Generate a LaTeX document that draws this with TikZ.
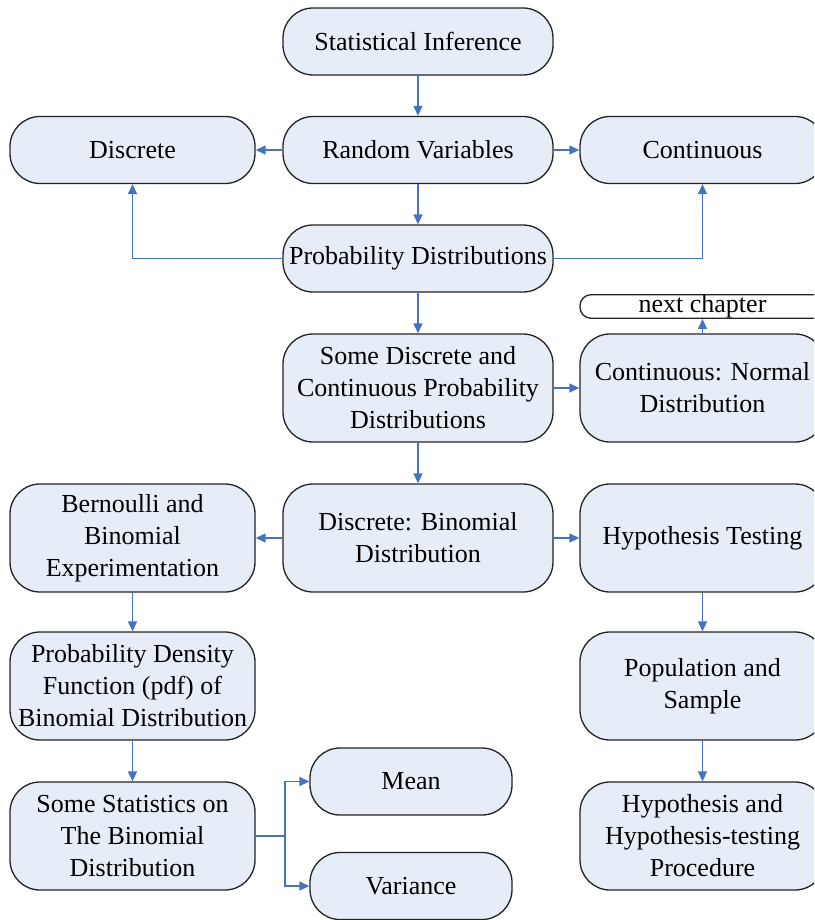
\documentclass[tikz,border=0pt]{standalone}
\usepackage{fontspec}
\setmainfont{Liberation Serif}
\usetikzlibrary{arrows.meta}
\definecolor{boxfill}{RGB}{231,237,247}
\definecolor{arrblue}{RGB}{70,114,196}
\definecolor{boxline}{RGB}{35,35,35}
\begin{document}
\begin{tikzpicture}[x=1pt,y=-1pt,
  box/.style={draw=boxline, line width=1.3pt, fill=boxfill, rounded corners=30pt,
    align=center, inner sep=0pt, font=\fontsize{26}{32}\selectfont},
  wbox/.style={box, minimum width=270pt},
  nbox/.style={box, minimum width=245pt},
  sbox/.style={minimum height=67pt},
  tbox/.style={minimum height=108pt},
  arr/.style={draw=arrblue, line width=1.3pt, -{Triangle[length=10pt,width=9pt]}}]
\useasboundingbox (0,0) rectangle (814,920);
\clip (0,0) rectangle (814,920);
\node[wbox,sbox] (si) at (418,41.5) {Statistical Inference};
\node[wbox,sbox] (rv) at (418,150) {Random Variables};
\node[nbox,sbox] (disc) at (132.5,150) {Discrete};
\node[nbox,sbox] (cont) at (702.5,150) {Continuous};
\node[wbox,sbox] (pd) at (418,258.5) {Probability Distributions};
\node[box, minimum width=245pt, minimum height=23pt, rounded corners=11pt, fill=white] (nc) at (702.5,306.5) {next chapter};
\node[wbox,tbox] (sdc) at (418,388) {Some Discrete and\\Continuous Probability\\Distributions};
\node[nbox,tbox] (cn) at (702.5,388) {Continuous: Normal\\Distribution};
\node[wbox,tbox] (db) at (418,538) {Discrete: Binomial\\Distribution};
\node[nbox,tbox] (be) at (132.5,538) {Bernoulli and\\Binomial\\Experimentation};
\node[nbox,tbox] (ht) at (702.5,538) {Hypothesis Testing};
\node[nbox,tbox] (pdf) at (132.5,686) {Probability Density\\Function (pdf) of\\Binomial Distribution};
\node[nbox,tbox] (pop) at (702.5,686) {Population and\\Sample};
\node[nbox,tbox] (ss) at (132.5,836) {Some Statistics on\\The Binomial\\Distribution};
\node[box, minimum width=202pt, sbox] (mean) at (411,781.5) {Mean};
\node[box, minimum width=202pt, sbox] (var) at (411,886) {Variance};
\node[nbox,tbox] (hp) at (702.5,836) {Hypothesis and\\Hypothesis-testing\\Procedure};
\coordinate (j) at (285,836);
\draw[arr] (si) -- (rv);
\draw[arr] (rv) -- (disc);
\draw[arr] (rv) -- (cont);
\draw[arr] (rv) -- (pd);
\draw[arr] (pd.west) -| (disc.south);
\draw[arr] (pd.east) -| (cont.south);
\draw[arr] (pd) -- (sdc);
\draw[arr] (sdc) -- (cn);
\draw[arr] (cn.north) -- (nc.south);
\draw[arr] (sdc) -- (db);
\draw[arr] (db) -- (be);
\draw[arr] (db) -- (ht);
\draw[arr] (be) -- (pdf);
\draw[arr] (pdf) -- (ss);
\draw[draw=arrblue, line width=1.3pt] (ss.east) -- (j);
\draw[arr] (j) |- (mean.west);
\draw[arr] (j) |- (var.west);
\draw[arr] (ht) -- (pop);
\draw[arr] (pop) -- (hp);
\end{tikzpicture}
\end{document}
